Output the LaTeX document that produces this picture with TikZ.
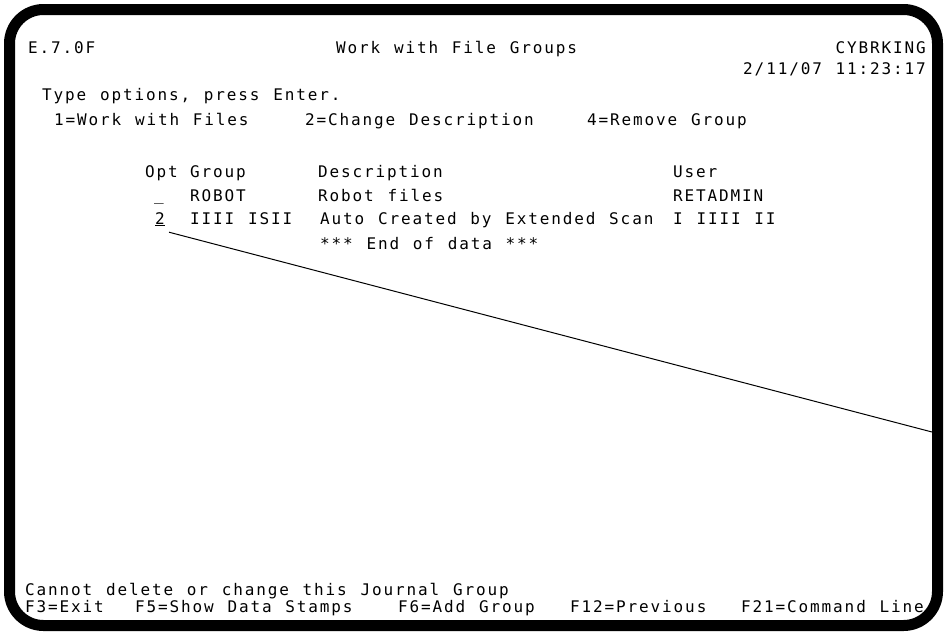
\documentclass[tikz,border=0pt]{standalone}
\usepackage{fontspec}
\newfontfamily\termfont[LetterSpace=11.7, WordSpace={1.194,0,0}]{DejaVu Sans Mono}
\usetikzlibrary{positioning}
\tikzset{
    scr/.style = {anchor=base west, inner sep=0pt,
        font=\termfont\fontsize{16}{16}\selectfont},
    scrr/.style = {scr, anchor=base east},
    Frame/.style = {line width=11pt, rounded corners=34pt},
    Pointer/.style = {line width=1pt, black}
}

\begin{document}
\begin{tikzpicture}[x=1pt, y=-1pt]
    \useasboundingbox (0,0) rectangle (947,635);
    \draw[Frame] (9.5,9.5) rectangle (937.5,625.5);
    % title lines
    \node[scr] (pgm) at (28,53) {E.7.0F};
    \node[scr] (title) at (336,53) {Work with File Groups};
    \node[scrr] (sys) at (926,53) {CYBRKING};
    \node[scrr] (stamp) at (926,74) {2/11/07 11:23:17};
    % options
    \node[scr] (type) at (42,100) {Type options, press Enter.};
    \node[scr] (o1) at (54,125) {1=Work with Files};
    \node[scr] (o2) at (305,125) {2=Change Description};
    \node[scr] (o4) at (587,125) {4=Remove Group};
    % list
    \node[scr] (hOpt) at (145,177) {Opt};
    \node[scr] (hGrp) at (190,177) {Group};
    \node[scr] (hDsc) at (318,177) {Description};
    \node[scr] (hUsr) at (673,177) {User};
    \node[scr] (opt1) at (154,200) {\_};
    \node[scr] (grp1) at (190,201) {ROBOT};
    \node[scr] (dsc1) at (318,201) {Robot files};
    \node[scr] (usr1) at (673,201) {RETADMIN};
    \node[scr] (opt2) at (155,224) {\underline{2}};
    \node[scr] (grp2) at (190,224) {IIII ISII};
    \node[scr] (dsc2) at (320,224) {Auto Created by Extended Scan};
    \node[scr] (usr2) at (673,224) {I IIII II};
    \node[scr] (eod) at (320,249) {*** End of data ***};
    % message and keys
    \node[scr] (msg) at (25,595) {Cannot delete or change this Journal Group};
    \node[scr] (f3) at (25,612) {F3=Exit};
    \node[scr] (f5) at (135,612) {F5=Show Data Stamps};
    \node[scr] (f6) at (398,612) {F6=Add Group};
    \node[scr] (f12) at (570,612) {F12=Previous};
    \node[scr] (f21) at (741,612) {F21=Command Line};
    % pointer to the edge
    \coordinate (edge) at (932,432);
    \draw[Pointer] ([xshift=4pt, yshift=-6pt]opt2.south east) -- (edge);
\end{tikzpicture}
\end{document}
